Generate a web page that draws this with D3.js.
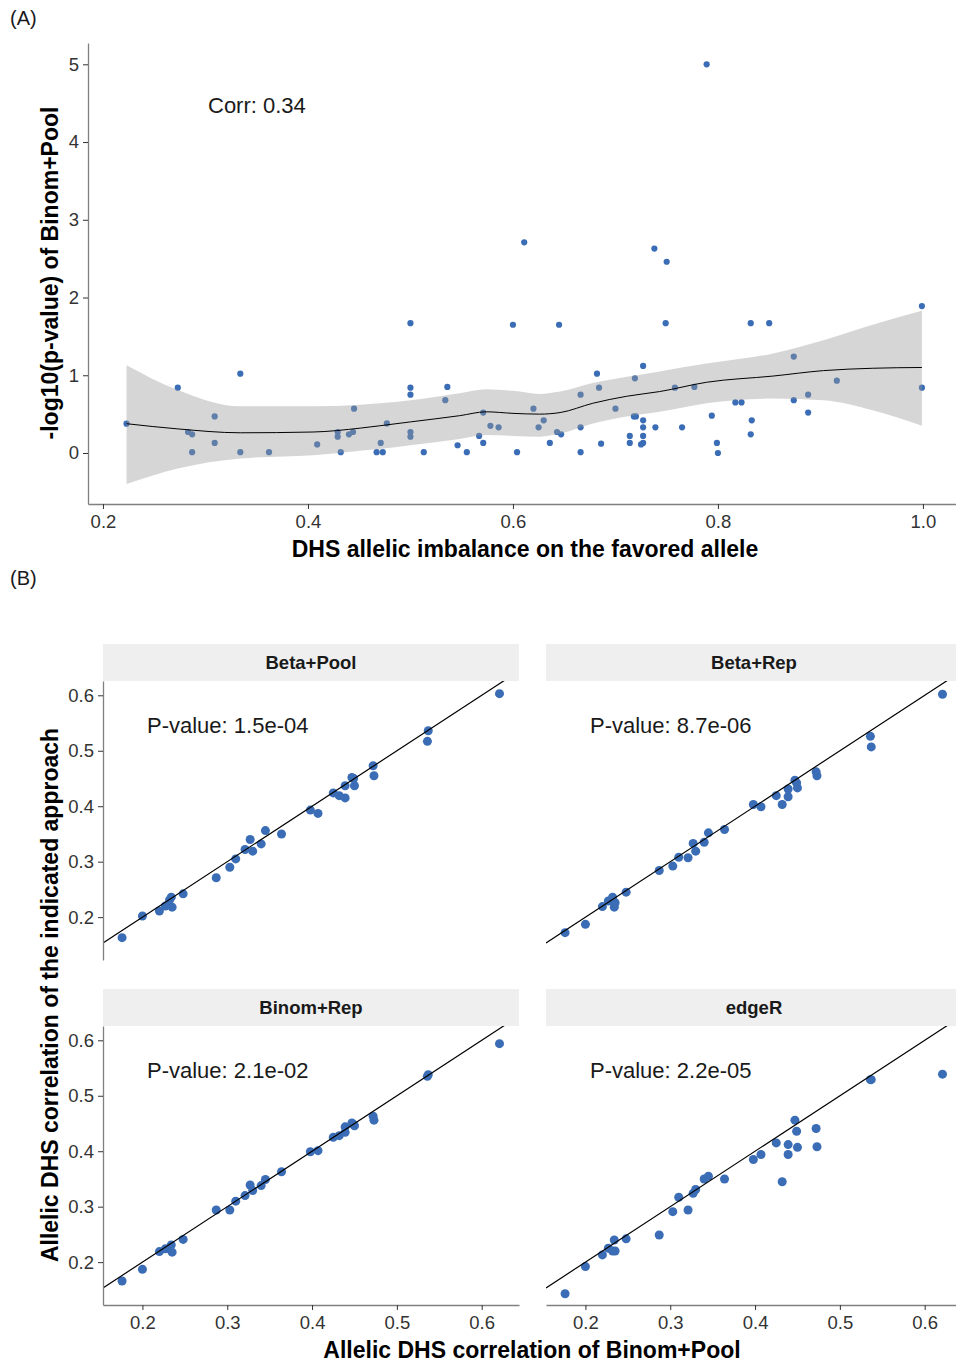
<!DOCTYPE html>
<html>
<head>
<meta charset="utf-8">
<script src="https://cdn.jsdelivr.net/npm/d3@7"></script>
<style>
  html, body { margin: 0; padding: 0; background: #fff; }
  svg { display: block; font-family: "Liberation Sans", Arial, sans-serif; }
</style>
</head>
<body>
<svg id="fig" width="956" height="1363"></svg>
<script>
// ---------- Panel A: allelic imbalance vs -log10(p) ----------
const imbalance = [0.223,0.273,0.334,0.309,0.283,0.287,0.287,0.309,0.334,0.362,0.409,0.429,0.429,0.432,0.440,0.444,0.445,0.467,0.473,0.471,0.477,0.500,0.500,0.500,0.500,0.500,0.513,0.534,0.536,0.546,0.555,0.567,0.571,0.571,0.578,0.586,0.600,0.604,0.611,0.620,0.625,0.630,0.636,0.643,0.645,0.647,0.666,0.666,0.666,0.682,0.684,0.686,0.700,0.714,0.714,0.719,0.718,0.720,0.727,0.727,0.727,0.727,0.727,0.725,0.739,0.738,0.750,0.749,0.758,0.777,0.765,0.789,0.794,0.799,0.800,0.817,0.823,0.832,0.850,0.833,0.832,0.874,0.874,0.888,0.888,0.916,0.999,0.999];
const negLogP = [0.377,0.84,1.02,0.47,0.27,0.24,0.01,0.13,0.01,0.01,0.11,0.27,0.21,0.01,0.24,0.27,0.57,0.01,0.01,0.13,0.38,1.67,0.84,0.75,0.27,0.21,0.01,0.68,0.85,0.10,0.01,0.22,0.13,0.52,0.35,0.33,1.65,0.01,2.71,0.57,0.33,0.42,0.13,0.27,1.65,0.24,0.75,0.33,0.01,1.02,0.84,0.12,0.57,0.22,0.13,0.96,0.47,0.47,1.12,0.42,0.33,0.22,0.13,0.11,0.33,2.63,2.46,1.67,0.84,0.85,0.33,5.00,0.48,0.13,0.00,0.65,0.65,1.67,1.67,0.42,0.24,1.24,0.68,0.75,0.52,0.93,1.89,0.84];

// loess fit with its confidence band
const smoothX  = [0.223,0.273,0.334,0.405,0.451,0.470,0.500,0.548,0.574,0.600,0.626,0.646,0.678,0.711,0.743,0.789,0.854,0.903,0.951,0.999];
const smoothY  = [0.377,0.31,0.26,0.27,0.32,0.35,0.40,0.48,0.53,0.51,0.50,0.52,0.64,0.73,0.79,0.91,0.99,1.06,1.09,1.10];
const smoothLo = [-0.40,-0.20,-0.07,-0.03,0.03,0.05,0.10,0.18,0.23,0.22,0.21,0.25,0.38,0.47,0.53,0.64,0.70,0.68,0.55,0.35];
const smoothHi = [1.13,0.81,0.60,0.60,0.62,0.64,0.68,0.77,0.82,0.80,0.76,0.79,0.90,0.98,1.05,1.15,1.28,1.45,1.65,1.83];

const aXTicks = [0.2, 0.4, 0.6, 0.8, 1.0];
const aYTicks = [0, 1, 2, 3, 4, 5];

// ---------- Panel B: per-approach correlations vs Binom+Pool ----------
const binomPool = [0.176,0.200,0.220,0.227,0.232,0.234,0.235,0.248,0.287,0.303,0.310,0.321,0.327,0.330,0.340,0.345,0.364,0.398,0.407,0.425,0.432,0.439,0.439,0.447,0.449,0.450,0.472,0.473,0.536,0.537,0.621];
const betaPool  = [0.163,0.202,0.211,0.220,0.231,0.236,0.218,0.242,0.271,0.290,0.305,0.322,0.340,0.319,0.332,0.356,0.350,0.393,0.387,0.424,0.419,0.415,0.437,0.452,0.450,0.437,0.473,0.455,0.517,0.536,0.603];
const betaRep   = [0.172,0.187,0.219,0.229,0.236,0.218,0.226,0.245,0.284,0.292,0.308,0.307,0.333,0.319,0.335,0.352,0.358,0.403,0.399,0.419,0.403,0.417,0.431,0.447,0.442,0.433,0.462,0.455,0.526,0.507,0.602];
const binomRep  = [0.166,0.187,0.219,0.224,0.224,0.231,0.218,0.241,0.294,0.294,0.310,0.320,0.339,0.329,0.338,0.349,0.363,0.399,0.401,0.425,0.428,0.434,0.444,0.451,0.448,0.446,0.463,0.456,0.535,0.538,0.594];
const edgeR     = [0.143,0.192,0.213,0.225,0.220,0.240,0.220,0.242,0.249,0.291,0.317,0.294,0.324,0.331,0.350,0.355,0.350,0.385,0.394,0.415,0.345,0.412,0.394,0.456,0.436,0.407,0.441,0.408,0.529,0.529,0.539];

const facetNames = ["Beta+Pool", "Beta+Rep", "Binom+Rep", "edgeR"];
const facetPValues = ["1.5e-04", "8.7e-06", "2.1e-02", "2.2e-05"];
const bTicks = [0.2, 0.3, 0.4, 0.5, 0.6];

// ---------- drawing ----------
const svg = d3.select("#fig");
const POINT = "#3a6db5";
const AXIS_LINE = "#808080";
const TICK_TEXT = "#333333";
const TICK_FONT = "18.5px";
const TITLE_FONT = "23px";
const NOTE_FONT = "22px";

svg.append("rect").attr("width", 956).attr("height", 1363).attr("fill", "#fff");

function styleAxis(g) {
  g.selectAll(".domain").attr("stroke", AXIS_LINE).attr("stroke-width", 1.3);
  g.selectAll(".tick line").attr("stroke", "#333").attr("stroke-width", 1);
  g.selectAll(".tick text").attr("fill", TICK_TEXT).style("font-size", TICK_FONT)
    .style("font-family", "'Liberation Sans', Arial, sans-serif");
}

// Panel A
const aLeft = 88, aRight = 963, aTop = 43, aBottom = 504;
const ax = d3.scaleLinear().domain([0.1854, 1.0391]).range([aLeft, aRight]);
const ay = d3.scaleLinear().domain([-0.656, 5.274]).range([aBottom, aTop]);

svg.append("text").attr("x", 10).attr("y", 25).text("(A)")
  .style("font-size", "20px").attr("fill", "#1a1a1a");

const gA = svg.append("g");
gA.selectAll("circle.pt").data(imbalance.map((v, i) => [v, negLogP[i]]))
  .join("circle").attr("class", "pt")
  .attr("cx", d => ax(d[0])).attr("cy", d => ay(d[1])).attr("r", 3.1)
  .attr("fill", POINT);

const band = smoothX.map((v, i) => ({x: v, y: smoothY[i], lo: smoothLo[i], hi: smoothHi[i]}));
gA.append("path").datum(band)
  .attr("d", d3.area().x(d => ax(d.x)).y0(d => ay(d.lo)).y1(d => ay(d.hi)).curve(d3.curveMonotoneX))
  .attr("fill", "#999999").attr("fill-opacity", 0.4);
gA.append("path").datum(band)
  .attr("d", d3.line().x(d => ax(d.x)).y(d => ay(d.y)).curve(d3.curveMonotoneX))
  .attr("fill", "none").attr("stroke", "#000").attr("stroke-width", 1);

const aXAxis = svg.append("g").attr("transform", `translate(0,${aBottom})`)
  .call(d3.axisBottom(ax).tickValues(aXTicks).tickFormat(d3.format(".1f")).tickSize(5).tickPadding(6).tickSizeOuter(0));
styleAxis(aXAxis);
const aYAxis = svg.append("g").attr("transform", `translate(${aLeft},0)`)
  .call(d3.axisLeft(ay).tickValues(aYTicks).tickFormat(d3.format("d")).tickSize(5).tickPadding(4).tickSizeOuter(0));
styleAxis(aYAxis);

svg.append("text").attr("x", 208).attr("y", 113).text("Corr: 0.34")
  .style("font-size", NOTE_FONT).attr("fill", "#1a1a1a");

svg.append("text").attr("x", 525).attr("y", 557).attr("text-anchor", "middle")
  .text("DHS allelic imbalance on the favored allele")
  .style("font-size", TITLE_FONT).style("font-weight", "bold").attr("fill", "#000");
svg.append("text").attr("transform", "translate(58,273) rotate(-90)").attr("text-anchor", "middle")
  .text("-log10(p-value) of Binom+Pool")
  .style("font-size", TITLE_FONT).style("font-weight", "bold").attr("fill", "#000");

// Panel B
svg.append("text").attr("x", 10).attr("y", 585).text("(B)")
  .style("font-size", "20px").attr("fill", "#1a1a1a");

const facetSeries = [betaPool, betaRep, binomRep, edgeR];
const colLeft = [103, 546], rowTop = [681, 1026];
const pW = 416, pH = 279, stripH = 37;
const bx = d3.scaleLinear().domain([0.1535, 0.6440]).range([0, pW]);
const by = d3.scaleLinear().domain([0.1227, 0.6258]).range([pH, 0]);

facetNames.forEach((name, k) => {
  const col = k % 2, row = Math.floor(k / 2);
  const g = svg.append("g").attr("transform", `translate(${colLeft[col]},${rowTop[row]})`);

  // strip
  g.append("rect").attr("x", 0).attr("y", -stripH).attr("width", pW).attr("height", stripH)
    .attr("fill", "#efefef");
  g.append("text").attr("x", pW / 2).attr("y", -stripH / 2 + 6.5).attr("text-anchor", "middle")
    .text(name).style("font-size", "18.5px").style("font-weight", "bold").attr("fill", "#1a1a1a");

  const clipId = "clip" + k;
  g.append("clipPath").attr("id", clipId).append("rect").attr("width", pW).attr("height", pH);
  const plot = g.append("g").attr("clip-path", `url(#${clipId})`);

  const ys = facetSeries[k];
  plot.selectAll("circle").data(binomPool.map((v, i) => [v, ys[i]]))
    .join("circle").attr("cx", d => bx(d[0])).attr("cy", d => by(d[1])).attr("r", 4.5)
    .attr("fill", POINT);

  // identity line y = x
  const dom = bx.domain();
  plot.append("line")
    .attr("x1", bx(dom[0])).attr("y1", by(dom[0]))
    .attr("x2", bx(dom[1])).attr("y2", by(dom[1]))
    .attr("stroke", "#000").attr("stroke-width", 1.2);

  g.append("text").attr("x", 44).attr("y", 52).text("P-value: " + facetPValues[k])
    .style("font-size", NOTE_FONT).attr("fill", "#1a1a1a");

  if (col === 0) {
    const yAx = g.append("g").call(d3.axisLeft(by).tickValues(bTicks).tickFormat(d3.format(".1f"))
      .tickSize(5).tickPadding(4).tickSizeOuter(0));
    styleAxis(yAx);
  }
  if (row === 1) {
    const xAx = g.append("g").attr("transform", `translate(0,${pH})`)
      .call(d3.axisBottom(bx).tickValues(bTicks).tickFormat(d3.format(".1f"))
        .tickSize(5).tickPadding(6).tickSizeOuter(0));
    styleAxis(xAx);
  }
});

svg.append("text").attr("x", 532).attr("y", 1358).attr("text-anchor", "middle")
  .text("Allelic DHS correlation of Binom+Pool")
  .style("font-size", TITLE_FONT).style("font-weight", "bold").attr("fill", "#000");
svg.append("text").attr("transform", "translate(58,995) rotate(-90)").attr("text-anchor", "middle")
  .text("Allelic DHS correlation of the indicated approach")
  .style("font-size", TITLE_FONT).style("font-weight", "bold").attr("fill", "#000");
</script>
</body>
</html>
